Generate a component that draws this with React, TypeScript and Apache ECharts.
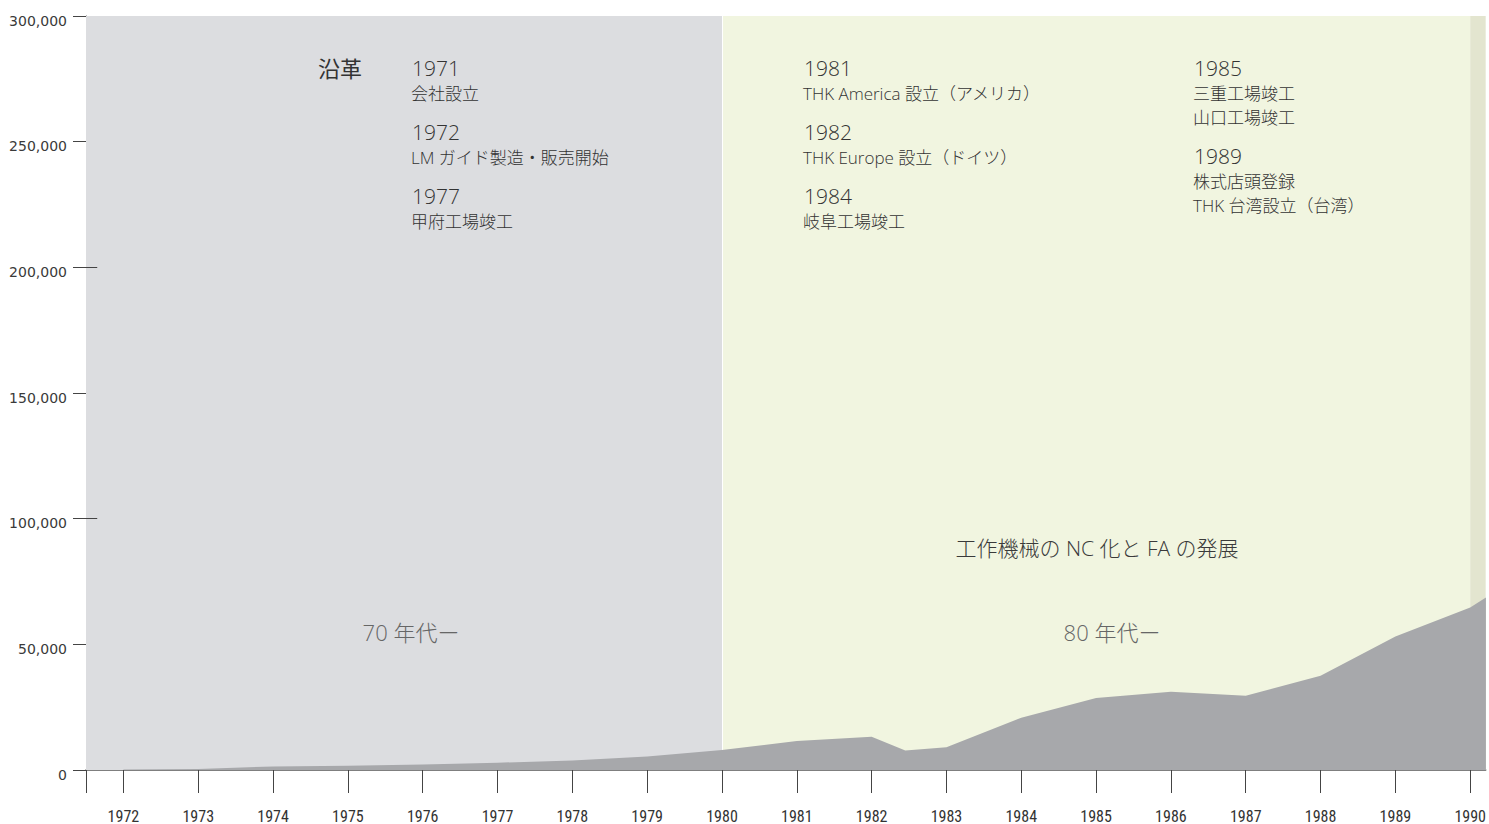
import React, { useEffect, useRef } from "react";
import * as echarts from "echarts";

// ---- data ----
const years = [1972, 1973, 1974, 1975, 1976, 1977, 1978, 1979, 1980, 1981, 1982, 1982.45, 1983, 1984, 1985, 1986, 1987, 1988, 1989, 1990, 1990.21];
const sales = [200, 400, 1400, 1700, 2200, 2900, 3800, 5400, 8000, 11500, 13200, 7800, 9100, 20800, 28600, 31100, 29500, 37500, 53100, 64700, 68600];
const tickYears = [1972, 1973, 1974, 1975, 1976, 1977, 1978, 1979, 1980, 1981, 1982, 1983, 1984, 1985, 1986, 1987, 1988, 1989, 1990];
const innerTickValues = [100000, 200000];
const eraRanges = [
  [1971.5, 1980],
  [1980, 1990],
  [1990, 1990.21],
];
const eraLabels = ["70 年代ー", "80 年代ー"];
const themeLabel = "工作機械の NC 化と FA の発展";
const historyTitle = "沿革";
const historyCol1 = [
  ["1971", "会社設立"],
  ["1972", "LM ガイド製造・販売開始"],
  ["1977", "甲府工場竣工"],
];
const historyCol2 = [
  ["1981", "THK America 設立（アメリカ）"],
  ["1982", "THK Europe 設立（ドイツ）"],
  ["1984", "岐阜工場竣工"],
];
const historyCol3 = [
  ["1985", "三重工場竣工", "山口工場竣工"],
  ["1989", "株式店頭登録", "THK 台湾設立（台湾）"],
];

const JP = "'Open Sans', 'Noto Sans CJK JP', sans-serif";

function txt(text: string, x: number, y: number, size: number, fill: string, align: string = "left", weight: any = 300) {
  return {
    type: "text",
    x,
    y,
    z: 100,
    silent: true,
    style: {
      text,
      fontSize: size,
      fontFamily: JP,
      fontWeight: weight,
      fill,
      align,
      textAlign: align,
      verticalAlign: "middle",
      textVerticalAlign: "middle",
    },
  };
}

export default function App() {
  const ref = useRef<HTMLDivElement>(null);
  useEffect(() => {
    if (!ref.current) return;
    const chart = echarts.init(ref.current, undefined, { renderer: "svg" });
    const xMin = 1971.5;
    const xMax = 1990.207;
    const bgColors = ["#dcdde0", "#f1f5e0", "#e3e5cf"];

    const graphics: any[] = [];
    graphics.push(txt(historyTitle, 318, 68, 22, "#333", "left", 400));
    historyCol1.forEach((h, i) => {
      graphics.push(txt(h[0], 412, 68 + i * 64, 21, "#333"));
      graphics.push(txt(h[1], 411, 93 + i * 64, 17, "#333"));
    });
    historyCol2.forEach((h, i) => {
      graphics.push(txt(h[0], 804, 68 + i * 64, 21, "#333"));
      graphics.push(txt(h[1], 803, 93 + i * 64, 17, "#333"));
    });
    historyCol3.forEach((h, i) => {
      const base = 68 + i * 88;
      graphics.push(txt(h[0], 1194, base, 21, "#333"));
      graphics.push(txt(h[1], 1193, base + 25, 17, "#333"));
      graphics.push(txt(h[2], 1193, base + 49, 17, "#333"));
    });
    graphics.push(txt(themeLabel, 1097, 548, 21, "#3a3a3a", "center"));
    graphics.push(txt(eraLabels[0], 411, 632, 22, "#666", "center"));
    graphics.push(txt(eraLabels[1], 1112, 632, 22, "#666", "center"));

    chart.setOption({
      animation: false,
      grid: { left: 86, right: 0, top: 16, bottom: 53 },
      xAxis: {
        type: "value",
        min: xMin,
        max: xMax,
        axisLine: { show: true, onZero: false, lineStyle: { color: "#555", width: 1.5 } },
        axisTick: {
          show: true,
          length: 23,
          customValues: [xMin, ...tickYears],
          lineStyle: { color: "#444", width: 1 },
        },
        axisLabel: {
          show: true,
          customValues: tickYears,
          margin: 38,
          fontSize: 16,
          fontFamily: "'Liberation Sans Narrow', 'Roboto Condensed', 'Liberation Sans', sans-serif",
          color: "#333",
          formatter: (v: number) => String(Math.round(v)),
        },
        splitLine: { show: false },
      },
      yAxis: {
        type: "value",
        min: 0,
        max: 300000,
        interval: 50000,
        axisLine: { show: true, lineStyle: { color: "#555", width: 1 } },
        axisTick: { show: true, length: 13, lineStyle: { color: "#444", width: 1 } },
        axisLabel: {
          margin: 19,
          fontSize: 14,
          fontFamily: "'DejaVu Sans', sans-serif",
          color: "#3a3a3a",
          verticalAlign: "top",
          lineHeight: 9,
          formatter: (v: number) => v.toLocaleString("en-US"),
        },
        splitLine: { show: false },
      },
      series: [
        {
          type: "line",
          z: 2,
          data: years.map((y, i) => [y, sales[i]]),
          symbol: "none",
          lineStyle: { width: 0 },
          areaStyle: { color: "#a7a8ab", opacity: 1 },
          silent: true,
          markArea: {
            silent: true,
            z: 1,
            data: eraRanges.map((r, i) => [
              { xAxis: r[0], yAxis: 0, itemStyle: { color: bgColors[i] } },
              { xAxis: r[1], yAxis: 300000 },
            ]),
          },
          markLine: {
            silent: true,
            z: 1.5,
            symbol: ["none", "none"],
            label: { show: false },
            data: [
              [
                { coord: [1980, 0], lineStyle: { color: "#ffffff", width: 1, type: "solid" } },
                { coord: [1980, 300000] },
              ],
              ...innerTickValues.map((v) => [
                { coord: [xMin, v], lineStyle: { color: "#444", width: 1, type: "solid" } },
                { coord: [xMin + 0.15, v] },
              ]),
            ],
          },
        },
      ],
      graphic: graphics,
    });
    return () => chart.dispose();
  }, []);
  return (
    <div
      ref={ref}
      style={{ position: "fixed", left: 0, top: 0, right: 0, bottom: 0, background: "#fff" }}
    />
  );
}
